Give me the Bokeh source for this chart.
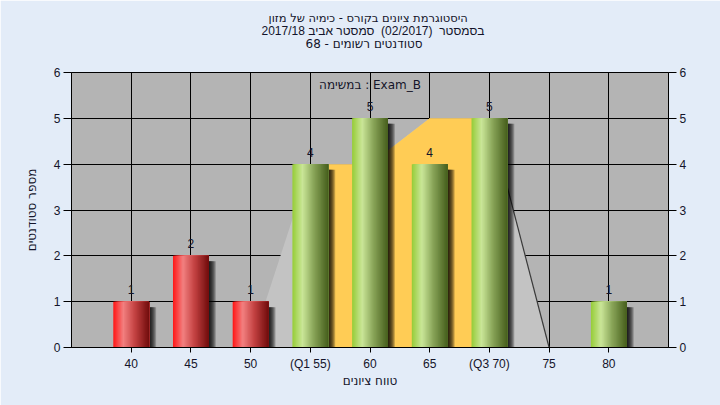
from bokeh.plotting import figure
from bokeh.models import Range1d, LinearAxis, FixedTicker, Label, Title, ColumnDataSource
from bokeh.core.properties import value
from bokeh.embed import file_html
from bokeh.resources import INLINE

# ---- data ----
grades = [40, 45, 50, 55, 60, 65, 70, 75, 80]
counts = [1, 2, 1, 4, 5, 4, 5, 0, 1]
tick_labels = ["40", "45", "50", "(Q1 55)", "60", "65", "(Q3 70)", "75", "80"]
q1 = 55
q3 = 70
pass_grade = 55
curve_x = [50, 55, 60, 65, 70, 75]
curve_y = [0, 4, 4, 5, 5, 0]
y_ticks = [0, 1, 2, 3, 4, 5, 6]

NB = "\u00a0"
title_lines = [
    "היסטוגרמת ציונים בקורס - כימיה של מזון",
    "בסמסטר " + NB + "(02/2017) " + NB + "סמסטר אביב 2017/18",
    "סטודנטים רשומים - 68",
]
exam_text = "במשימה : Exam_B"
x_title = "טווח ציונים"
y_title = "מספר סטודנטים"

FONT = "Liberation Sans"
HFONT = "DejaVu Sans"
TXT = "#14142a"
BG = "#e3ecf8"

# per-line style: font, size (px), left offset from the frame's left edge
title_fonts = [HFONT, FONT, HFONT]
title_sizes = [11.5, 12, 12]
title_offsets = [197, 190, 234]

p = figure(width=720, height=405, x_range=Range1d(35, 85), y_range=Range1d(0, 6),
           output_backend="svg", toolbar_location=None,
           min_border_left=71, min_border_right=52, min_border_top=72, min_border_bottom=58)
p.border_fill_color = BG
p.background_fill_color = "#b4b4b4"
p.outline_line_color = "black"
p.outline_line_width = 1

# grids
p.xgrid.ticker = FixedTicker(ticks=grades)
p.ygrid.ticker = FixedTicker(ticks=y_ticks)
for g in (p.xgrid, p.ygrid):
    g.grid_line_color = "black"
    g.grid_line_width = 1

# axes
p.xaxis.ticker = FixedTicker(ticks=grades)
p.xaxis.major_label_overrides = {g: l for g, l in zip(grades, tick_labels)}
p.xaxis.axis_label = x_title
p.yaxis.ticker = FixedTicker(ticks=y_ticks)
p.yaxis.axis_label = y_title
right = LinearAxis(ticker=FixedTicker(ticks=y_ticks))
p.add_layout(right, "right")
for ax in (p.xaxis[0], p.yaxis[0], right):
    ax.axis_line_color = "black"
    ax.major_tick_line_color = "black"
    ax.minor_tick_line_color = None
    ax.major_tick_in = 0
    ax.major_label_text_font = FONT
    ax.major_label_text_font_size = "12px"
    ax.major_label_text_color = TXT
    ax.axis_label_text_font = HFONT
    ax.axis_label_text_font_size = "12px"
    ax.axis_label_text_font_style = "normal"
    ax.axis_label_text_color = TXT
p.xaxis.major_tick_out = 5
p.xaxis.major_label_standoff = 4
p.xaxis.axis_label_standoff = 0
for ax in (p.yaxis[0], right):
    ax.major_tick_out = 8
    ax.major_label_standoff = 3
p.yaxis.axis_label_standoff = 12

# title: spacer (same colour as background) next to the frame, then the three lines outward
p.add_layout(Title(text=".", text_font=HFONT, text_font_size="12px", standoff=12.3,
                   text_color=BG), "above")
for line, fnt, fs, off in zip(reversed(title_lines), reversed(title_fonts),
                              reversed(title_sizes), reversed(title_offsets)):
    p.add_layout(Title(text=line, align="left", offset=off, text_font=fnt,
                       text_font_size="%spx" % fs, text_font_style="normal", text_color=TXT,
                       standoff=round(13 - (2 + 1.2 * fs), 1)), "above")

# curve area (light grey) and IQR area (orange)
p.patch(curve_x, curve_y, fill_color="#c3c3c3", line_color=None)
ox = [q1] + [x for x in curve_x if q1 <= x <= q3] + [q3]
oy = [0] + [y for x, y in zip(curve_x, curve_y) if q1 <= x <= q3] + [0]
p.patch(ox, oy, fill_color="#ffcc55", line_color=None)
p.line(curve_x[-2:], curve_y[-2:], line_color="#3a3a3a", line_width=1.2)

# bars: shadows then gradient strips
bar_w = 3.0
n_strips = 30
red_stops = [(0.0, (255, 22, 22)), (0.28, (242, 128, 128)), (0.6, (196, 66, 66)), (1.0, (112, 12, 12))]
green_stops = [(0.0, (150, 205, 55)), (0.28, (202, 230, 152)), (0.6, (136, 164, 88)), (1.0, (70, 94, 28))]


def interp(stops, f):
    for (a, ca), (b, cb) in zip(stops[:-1], stops[1:]):
        if a <= f <= b:
            t_ = (f - a) / (b - a)
            c = [round(ca[i] + (cb[i] - ca[i]) * t_) for i in range(3)]
            return "#%02x%02x%02x" % tuple(c)
    return "#%02x%02x%02x" % stops[-1][1]


sh = dict(left=[], right=[], top=[], alpha=[])
px = 50 / 597
for g, c in zip(grades, counts):
    if c <= 0:
        continue
    for k in range(7):
        sh["left"].append(g + bar_w / 2)
        sh["right"].append(g + bar_w / 2 + (7 - k) * px)
        sh["top"].append(c - 0.12)
        sh["alpha"].append(0.22)
p.quad(left="left", right="right", top="top", bottom=0, fill_color="black",
       fill_alpha="alpha", line_color=None, source=ColumnDataSource(sh))

st = dict(left=[], right=[], top=[], color=[])
sw = bar_w / n_strips
for g, c in zip(grades, counts):
    if c <= 0:
        continue
    stops = red_stops if g < pass_grade else green_stops
    for k in range(n_strips):
        st["left"].append(g - bar_w / 2 + k * sw)
        st["right"].append(g + bar_w / 2)
        st["top"].append(c)
        st["color"].append(interp(stops, (k + 0.5) / n_strips))
p.quad(left="left", right="right", top="top", bottom=0, fill_color="color", line_color=None,
       source=ColumnDataSource(st))

# value labels
lab = dict(x=[g for g, c in zip(grades, counts) if c > 0],
           y=[c for c in counts if c > 0],
           t=[str(c) for c in counts if c > 0])
p.text(x="x", y="y", text="t", source=ColumnDataSource(lab), text_align="center",
       text_baseline="alphabetic", y_offset=-12, text_font=value(FONT), text_font_size="12px",
       text_color=TXT)

p.add_layout(Label(x=60, y=5.72, text=exam_text, text_align="center", text_baseline="middle",
                   text_font=HFONT, text_font_size="12px", text_color=TXT))

open("out.html", "w").write(file_html(p, INLINE))
